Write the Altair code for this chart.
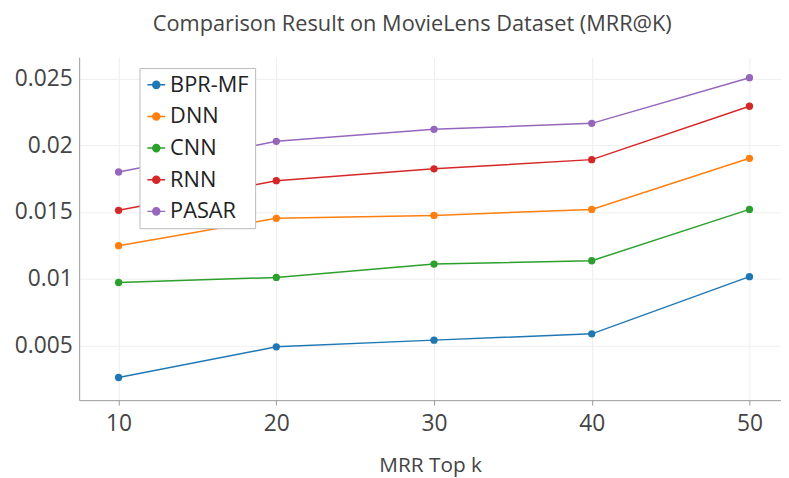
import altair as alt
import pandas as pd

k_values = [10, 20, 30, 40, 50]
series_names = ["BPR-MF", "DNN", "CNN", "RNN", "PASAR"]
bpr_mf = [0.0026, 0.0049, 0.0054, 0.00587, 0.01016]
dnn = [0.01248, 0.01453, 0.01475, 0.0152, 0.01903]
cnn = [0.00972, 0.0101, 0.0111, 0.01135, 0.0152]
rnn = [0.01513, 0.01735, 0.01824, 0.01893, 0.02293]
pasar = [0.018, 0.0203, 0.0212, 0.02165, 0.02507]
colors = ["#1f77b4", "#ff7f0e", "#2ca02c", "#d62728", "#9467bd"]
y_ticks = [0.005, 0.01, 0.015, 0.02, 0.025]

rows = []
for name, vals in zip(series_names, [bpr_mf, dnn, cnn, rnn, pasar]):
    for k, v in zip(k_values, vals):
        rows.append({"k": k, "value": v, "model": name})
df = pd.DataFrame(rows)

FONT = "Open Sans"

color = alt.Color(
    "model:N",
    scale=alt.Scale(domain=series_names, range=colors),
    legend=alt.Legend(
        title=None,
        orient="none",
        legendX=61,
        legendY=11,
        labelFontSize=22,
        labelFont=FONT,
        labelColor="#222",
        labelOffset=3,
        symbolType="M -1 0 L 1 0 M -0.4 0 A 0.4 0.4 0 1 1 0.4 0 A 0.4 0.4 0 1 1 -0.4 0",
        symbolSize=324,
        symbolStrokeWidth=1.5,
        rowPadding=10,
        padding=6,
        strokeColor="#bbbbbb",
        fillColor="white",
    ),
)

x = alt.X(
    "k:Q",
    scale=alt.Scale(domain=[7.5, 52], nice=False, zero=False),
    axis=alt.Axis(
        values=k_values,
        title="MRR Top k",
        titleFontSize=21,
        titleFont=FONT,
        titleFontWeight="normal",
        titleColor="#444",
        titlePadding=19,
        labelFontSize=23,
        labelFont=FONT,
        labelColor="#444",
        labelPadding=8,
        tickSize=5,
        tickColor="#999",
        domainColor="#999",
        gridColor="#eeeeee",
    ),
)
y = alt.Y(
    "value:Q",
    scale=alt.Scale(domain=[0.0009, 0.02661], nice=False, zero=False),
    axis=alt.Axis(
        values=y_ticks,
        format="~g",
        title=None,
        labelFontSize=23,
        labelFont=FONT,
        labelColor="#444",
        labelPadding=7,
        ticks=False,
        domainColor="#999",
        gridColor="#eeeeee",
    ),
)

base = alt.Chart(df)
lines = base.mark_line(strokeWidth=1.5).encode(x=x, y=y, color=color)
points = base.mark_point(filled=True, size=55, opacity=1).encode(x=x, y=y, color=color)

chart = (
    alt.layer(lines, points)
    .properties(
        width=710,
        height=347,
        autosize=alt.AutoSizeParams(type="none"),
        padding={"left": 72, "top": 47, "right": 0, "bottom": 76},
        title=alt.TitleParams(
            "Comparison Result on MovieLens Dataset (MRR@K)",
            fontSize=22,
            font=FONT,
            fontWeight="normal",
            color="#444",
            anchor="middle",
            dx=-18,
            offset=21,
        ),
    )
    .configure_view(stroke=None)
)

chart.save("out.html", embed_options={"renderer": "svg", "actions": False})
